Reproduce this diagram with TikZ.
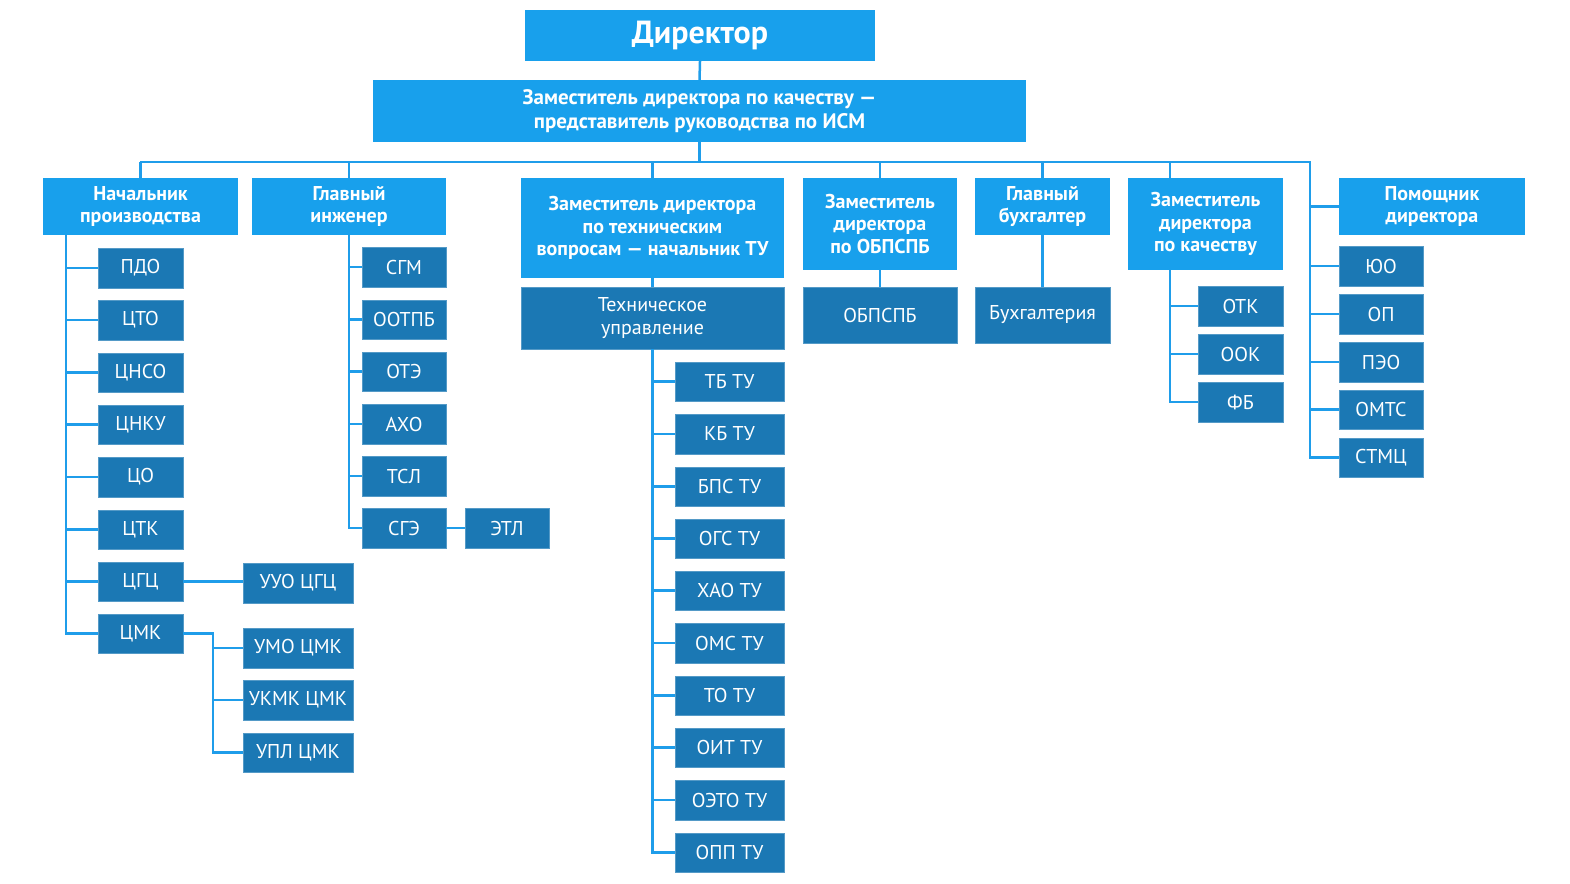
\documentclass[tikz,border=0pt]{standalone}
\usepackage{fontspec}
\setmainfont{PT Sans}
\definecolor{lb}{HTML}{18A0EC}
\definecolor{db}{HTML}{1B78B4}
\definecolor{ln}{HTML}{1F9DEA}
\newcommand{\bx}[7]{\node[#6, minimum width={#4-#2}, minimum height={#5-#3}] (#1) at ({(#2+#4)/2},{(#3+#5)/2}) {#7};}
\tikzset{
 L/.style={fill=lb, draw=none, text=white, font=\fontsize{20}{22.5}\selectfont\bfseries, align=center, inner sep=0pt},
 D/.style={fill=db, draw=db!75!white, line width=0.8pt, text=white, font=\fontsize{20}{23}\selectfont, align=center, inner sep=0pt},
 con/.style={draw=ln, line width=2.5pt}
}
\begin{document}
\begin{tikzpicture}[x=1pt,y=-1pt]
\fill[white] (0,0) rectangle (1570,883);
\useasboundingbox (0,0) rectangle (1570,883);
% top
\bx{dir}{525}{10}{875}{61}{L,font=\fontsize{32}{36}\selectfont\bfseries}{Директор}
\bx{dep}{373}{80}{1026}{142}{L,font=\fontsize{21}{23.5}\selectfont\bfseries}{Заместитель директора по качеству —\\представитель руководства по ИСМ}
% level 2
\bx{np}{43}{178}{238}{235}{L}{Начальник\\производства}
\bx{gi}{252}{178}{446}{235}{L}{Главный\\инженер}
\bx{zt}{521}{178}{784}{278}{L}{Заместитель директора\\по техническим\\вопросам — начальник ТУ}
\bx{zo}{803}{178}{957}{270}{L}{Заместитель\\директора\\по ОБПСПБ}
\bx{gb}{975}{178}{1110}{235}{L}{Главный\\бухгалтер}
\bx{zq}{1128}{178}{1283}{270}{L}{Заместитель\\директора\\по качеству}
\bx{pd}{1339}{178}{1525}{235}{L}{Помощник\\директора}
% dark level 3
\bx{tu}{521}{287}{784}{349}{D}{Техническое\\управление}
\bx{ob}{803}{287}{957}{343}{D}{ОБПСПБ}
\bx{bu}{975}{287}{1110}{343}{D}{Бухгалтерия}
% production
\bx{pdo}{98}{248}{183}{288}{D}{ПДО}
\bx{cto}{98}{300}{183}{340}{D}{ЦТО}
\bx{cnso}{98}{353}{183}{392}{D}{ЦНСО}
\bx{cnku}{98}{405}{183}{444}{D}{ЦНКУ}
\bx{co}{98}{457}{183}{497}{D}{ЦО}
\bx{ctk}{98}{510}{183}{549}{D}{ЦТК}
\bx{cgc}{98}{562}{183}{601}{D}{ЦГЦ}
\bx{cmk}{98}{614}{183}{653}{D}{ЦМК}
\bx{uuo}{243}{563}{353}{603}{D}{УУО ЦГЦ}
\bx{umo}{243}{628}{353}{668}{D}{УМО ЦМК}
\bx{ukmk}{243}{680}{353}{720}{D}{УКМК ЦМК}
\bx{upl}{243}{733}{353}{772}{D}{УПЛ ЦМК}
% chief engineer
\bx{sgm}{362}{247}{446}{287}{D}{СГМ}
\bx{ootpb}{362}{300}{446}{339}{D}{ООТПБ}
\bx{ote}{362}{352}{446}{391}{D}{ОТЭ}
\bx{axo}{362}{404}{446}{444}{D}{АХО}
\bx{tsl}{362}{456}{446}{496}{D}{ТСЛ}
\bx{sge}{362}{508}{446}{548}{D}{СГЭ}
\bx{etl}{465}{508}{549}{548}{D}{ЭТЛ}
% technical
\bx{tb}{675}{362}{784}{401}{D}{ТБ ТУ}
\bx{kb}{675}{414}{784}{454}{D}{КБ ТУ}
\bx{bps}{675}{467}{784}{506}{D}{БПС ТУ}
\bx{ogs}{675}{519}{784}{558}{D}{ОГС ТУ}
\bx{xao}{675}{571}{784}{610}{D}{ХАО ТУ}
\bx{oms}{675}{623}{784}{663}{D}{ОМС ТУ}
\bx{to}{675}{676}{784}{715}{D}{ТО ТУ}
\bx{oit}{675}{728}{784}{767}{D}{ОИТ ТУ}
\bx{oeto}{675}{780}{784}{820}{D}{ОЭТО ТУ}
\bx{opp}{675}{833}{784}{872}{D}{ОПП ТУ}
% quality
\bx{otk}{1198}{286}{1283}{326}{D}{ОТК}
\bx{ook}{1198}{334}{1283}{374}{D}{ООК}
\bx{fb}{1198}{382}{1283}{422}{D}{ФБ}
% assistant
\bx{yuo}{1339}{246}{1423}{286}{D}{ЮО}
\bx{op}{1339}{294}{1423}{334}{D}{ОП}
\bx{peo}{1339}{342}{1423}{382}{D}{ПЭО}
\bx{omts}{1339}{390}{1423}{429}{D}{ОМТС}
\bx{stmc}{1339}{438}{1423}{477}{D}{СТМЦ}
% connectors
\coordinate (busL) at (140,162);
\coordinate (busR) at (1310,162);
\coordinate (tA) at (66,0);
\coordinate (tB) at (213,0);
\coordinate (zqx) at (1170,0);
\draw[con] (dir.south) -- (dep.north);
\draw[con] (dep.south) -- (dep.south |- busL);
\draw[con] (busL) -- (busR) |- (stmc.west);
\foreach \n in {np,gi,zt,zo,gb} \draw[con] (\n.north) -- (\n.north |- busL);
\draw[con] (zqx |- zq.north) -- (zqx |- busL);
\foreach \n in {pd,yuo,op,peo,omts} \draw[con] (\n.west -| busR) -- (\n.west);
\draw[con] (tA |- np.south) |- (cmk.west);
\foreach \n in {pdo,cto,cnso,cnku,co,ctk,cgc} \draw[con] (tA |- \n.west) -- (\n.west);
\draw[con] (cgc.east) -- (cgc.east -| uuo.west);
\draw[con] (cmk.east) -- (tB |- cmk.east) |- (upl.west);
\foreach \n in {umo,ukmk} \draw[con] (tB |- \n.west) -- (\n.west);
\draw[con] (gi.south) |- (sge.west);
\foreach \n in {sgm,ootpb,ote,axo,tsl} \draw[con] (gi.south |- \n.west) -- (\n.west);
\draw[con] (sge.east) -- (etl.west);
\draw[con] (zt.south) -- (tu.north);
\draw[con] (zo.south) -- (ob.north);
\draw[con] (gb.south) -- (bu.north);
\draw[con] (tu.south) |- (opp.west);
\foreach \n in {tb,kb,bps,ogs,xao,oms,to,oit,oeto} \draw[con] (tu.south |- \n.west) -- (\n.west);
\draw[con] (zqx |- zq.south) |- (fb.west);
\foreach \n in {otk,ook} \draw[con] (zqx |- \n.west) -- (\n.west);
\end{tikzpicture}
\end{document}
